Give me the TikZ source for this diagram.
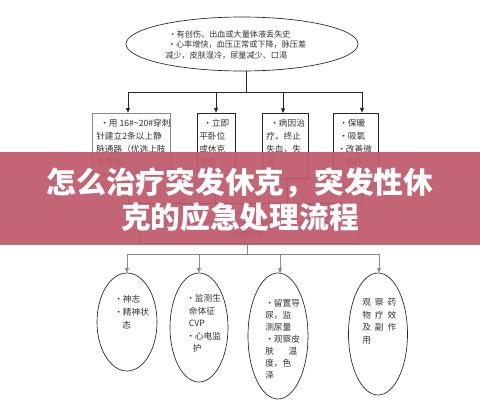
\documentclass[tikz,border=0pt]{standalone}
\usepackage{fontspec}
\setmainfont{Noto Sans CJK SC}
\usetikzlibrary{shapes.geometric,arrows.meta}
\definecolor{bannercol}{HTML}{C05A6C}
\definecolor{txt}{HTML}{333333}
\definecolor{ln}{HTML}{8A8A8A}
\newcommand\pxu{0.75pt}
\begin{document}
\begin{tikzpicture}[x=0.75pt,y=-0.75pt,
  oval/.style={ellipse, draw=black!85, line width=0.5pt, inner sep=0},
  boxg/.style={rectangle, draw=ln, line width=0.5pt, inner sep=0},
  boxk/.style={rectangle, draw=black!85, line width=0.6pt, inner sep=0},
  small/.style={font=\fontsize{6.5}{9.75}\selectfont, text=txt, align=left, anchor=north west, inner sep=0},
  tiny/.style={font=\fontsize{6.1}{7.9}\selectfont, text=txt, align=left, anchor=north west, inner sep=0},
  conn/.style={line width=0.6pt, draw=black!85},
  conng/.style={line width=0.5pt, draw=ln},
  arr/.style={-{Triangle[width=3pt,length=3.5pt]}}]
\useasboundingbox (0,0) rectangle (480,400);
\fill[white] (0,0) rectangle (480,400);

% top ellipse
\node[oval, minimum width=232*\pxu, minimum height=54*\pxu] (e0) at (242,44) {};
\node[tiny] (t0) at (165,30) {\hspace{2.5pt}·有创伤、出血或大量体液丢失史\\\hspace{2pt}·心率增快，血压正常或下降，脉压差\\减少，皮肤湿冷，尿量减少、口渴};

% first row boxes
\node[boxg, minimum width=78*\pxu, minimum height=72*\pxu] (b1) at (131,149) {};
\node[boxk, minimum width=38*\pxu, minimum height=62*\pxu] (b2) at (216,144) {};
\node[boxk, minimum width=46*\pxu, minimum height=65*\pxu] (b3) at (285,145.5) {};
\node[boxk, minimum width=45*\pxu, minimum height=62*\pxu] (b4) at (355.5,144) {};

\node[small] (t1) at (96,119) {\hspace{3pt}·用 16\#\textasciitilde 20\#穿刺\\针建立2条以上静\\脉通路（优选上肢\\系静脉）\\\hspace{3pt}·快速补液};
\node[small] (t2) at (199,119) {\hspace{3pt}·立即\\平卧位\\或休克\\体位};
\node[small] (t3) at (266,119) {\hspace{3pt}·病因治\\疗，终止\\失血，失\\液};
\node[small] (t4) at (337,119) {\hspace{1.5pt}·保暖\\\hspace{1.5pt}·吸氧\\·改善微\\\hspace{6pt}循环};

% junctions top
\coordinate (j0) at (246,92);
\coordinate (ja) at (128,92);
\coordinate (jd) at (362,92);
\draw[conn] ([xshift=4*\pxu]e0.south) -- (j0);
\draw[conn] (ja) -- (jd);
\draw[conn,arr] (ja) -- (ja |- b1.north);
\draw[conn,arr] (j0 -| b2) -- (b2.north);
\draw[conn,arr] (j0 -| 283,0) -- (283,113);
\draw[conn,arr] (jd) -- (jd |- b4.north);

% observation box
\node[boxk, draw=black!70, minimum width=219*\pxu, minimum height=21*\pxu] (obs) at (248.5,232.5) {};
\node[font=\fontsize{6.5}{8}\selectfont, text=txt, inner sep=0] (tobs) at (248,235) {病情观察};

\coordinate (m1) at (128,203);
\coordinate (m4) at (362,203);
\draw[conn] (m1 |- b1.south) -- (m1);
\draw[conn] (215,175) -- (215,203);
\draw[conn] (287,178) -- (287,203);
\draw[conn] (m4 |- b4.south) -- (m4);
\draw[conn] (m1) -- (m4);
\draw[conn] (247,203) -- (obs.north -| 247,0);

% bottom ellipses
\node[oval, minimum width=60*\pxu, minimum height=98*\pxu] (e1) at (127,322) {};
\node[oval, minimum width=58*\pxu, minimum height=109*\pxu] (e2) at (199,327.5) {};
\node[oval, minimum width=60*\pxu, minimum height=126*\pxu] (e3) at (278,336) {};
\node[oval, minimum width=59*\pxu, minimum height=122*\pxu] (e4) at (378,334) {};

\coordinate (k0) at (247,254);
\coordinate (k1) at (127,254);
\coordinate (k4) at (379,254);
\draw[conng] (obs.south -| k0) -- (k0);
\draw[conng] (k1) -- (k4);
\draw[conng,arr] (k1) -- (e1.north);
\draw[conng,arr] (k0 -| e2) -- (e2.north);
\draw[conng,arr] (k0 -| 280,0) -- (280,273);
\draw[conng,arr] (k4) -- (k4 |- e4.north);

\node[small] (s1) at (114,295) {·神志\\·精神状\\\hspace{6pt}态};
\node[small, font=\fontsize{6.5}{9.4}\selectfont] (s2) at (186,294) {·监测生\\\hspace{2pt}命体征\\\hspace{2pt}CVP\\·心电监\\\hspace{5pt}护};
\node[small, font=\fontsize{6.5}{9}\selectfont] (s3) at (265,299) {·留置导\\尿，监\\测尿量\\·观察皮\\肤\hspace{11pt}温\\度，色\\泽};
\node[small, font=\fontsize{6.5}{9.4}\selectfont] (s4) at (362,298) {观\hspace{3pt}察\hspace{3pt}药\\物\hspace{3pt}疗\hspace{3pt}效\\及\hspace{3pt}副\hspace{3pt}作\\用};

% banner
\fill[bannercol, opacity=0.93] (0,152) rectangle (480,245);
\node[font=\fontsize{22.3}{26}\selectfont\bfseries, text=white, align=center, inner sep=0] (title) at (240,199.5) {怎么治疗突发休克，突发性休\\克的应急处理流程};
\end{tikzpicture}
\end{document}
